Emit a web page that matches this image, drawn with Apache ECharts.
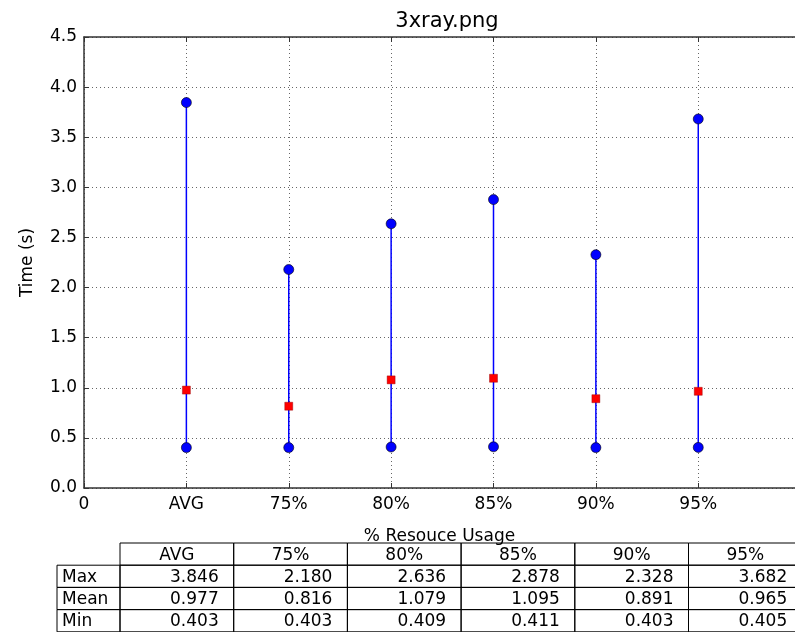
<!DOCTYPE html>
<html>
<head>
<meta charset="utf-8">
<script src="https://cdn.jsdelivr.net/npm/echarts@6/dist/echarts.min.js"></script>
<style>
html,body{margin:0;padding:0;background:#fff;}
#chart{width:795px;height:632px;}
</style>
</head>
<body>
<div id="chart"></div>
<script>
// ---- data ----
const categories = ['AVG', '75%', '80%', '85%', '90%', '95%'];
const maxVals  = [3.846, 2.180, 2.636, 2.878, 2.328, 3.682];
const meanVals = [0.977, 0.816, 1.079, 1.095, 0.891, 0.965];
const minVals  = [0.403, 0.403, 0.409, 0.411, 0.403, 0.405];
const xTickLabels = ['0', 'AVG', '75%', '80%', '85%', '90%', '95%'];
const rowLabels = ['Max', 'Mean', 'Min'];
const titleText = '3xray.png';
const xAxisName = '% Resouce Usage';
const yAxisName = 'Time (s)';

// ---- layout ----
const FONT = 'DejaVu Sans';
const gridLeft = 84, gridTop = 37, gridW = 712.5, gridH = 451;
const xMaxVisible = 6.945; // axis runs to 7, right part is cut off by the canvas
const axisColor = '#333';

const chart = echarts.init(document.getElementById('chart'));

const lineSeries = categories.map((c, i) => ({
  type: 'line',
  data: [[i + 1, minVals[i]], [i + 1, maxVals[i]]],
  symbol: 'none',
  lineStyle: { color: '#0000ff', width: 1.5 },
  z: 2,
  animation: false
}));

// table graphics
const tableTop = 543, rowH = 22.2, labelLeft = 57, colStart = 120, colW = 113.7;
const graphics = [];
const rect = (x, y, w, h) => ({
  type: 'rect', shape: { x: x, y: y, width: w, height: h },
  style: { fill: 'none', stroke: '#000', lineWidth: 1 }, silent: true
});
const txt = (s, x, y, align) => ({
  type: 'text', x: x, y: y,
  style: { text: s, font: '17px "' + FONT + '"', fill: '#000', textAlign: align, textVerticalAlign: 'middle' },
  silent: true
});
categories.forEach((c, j) => {
  const x = colStart + j * colW;
  graphics.push(rect(x, tableTop, colW, rowH));
  graphics.push(txt(c, x + colW / 2, tableTop + rowH / 2 + 1, 'center'));
});
const tableRows = [maxVals, meanVals, minVals];
tableRows.forEach((vals, r) => {
  const y = tableTop + rowH * (r + 1);
  graphics.push(rect(labelLeft, y, colStart - labelLeft, rowH));
  graphics.push(txt(rowLabels[r], labelLeft + 5, y + rowH / 2 + 1, 'left'));
  vals.forEach((v, j) => {
    const x = colStart + j * colW;
    graphics.push(rect(x, y, colW, rowH));
    graphics.push(txt(v.toFixed(3), x + colW - 15, y + rowH / 2 + 1, 'right'));
  });
});

const xLabelFmt = v => (Number.isInteger(v) && xTickLabels[v] !== undefined) ? xTickLabels[v] : '';

const option = {
  animation: false,
  backgroundColor: '#fff',
  title: {
    text: titleText,
    left: 442,
    textAlign: 'center',
    top: 6,
    textStyle: { fontFamily: FONT, fontSize: 21, fontWeight: 'normal', color: '#000' }
  },
  grid: { left: gridLeft, top: gridTop, width: gridW, height: gridH, containLabel: false },
  xAxis: [{
    type: 'value', min: 0, max: xMaxVisible, interval: 1, position: 'bottom',
    name: xAxisName, nameLocation: 'middle', nameGap: 40,
    nameTextStyle: { fontFamily: FONT, fontSize: 17, color: '#000' },
    axisLine: { show: true, onZero: false, lineStyle: { color: axisColor, width: 1.5 } },
    axisTick: { show: true, inside: true, length: 5, lineStyle: { color: axisColor } },
    axisLabel: { formatter: xLabelFmt, fontFamily: FONT, fontSize: 17, color: '#000', margin: 8, showMaxLabel: false },
    splitLine: { show: true, showMaxLine: false, lineStyle: { color: '#666', type: [1, 3], width: 1 } }
  }, {
    type: 'value', min: 0, max: xMaxVisible, interval: 1, position: 'top',
    axisLine: { show: true, onZero: false, lineStyle: { color: axisColor, width: 1.5 } },
    axisTick: { show: true, inside: true, length: 5, lineStyle: { color: axisColor } },
    axisLabel: { show: false },
    splitLine: { show: false }
  }],
  yAxis: {
    type: 'value', min: 0, max: 4.5, interval: 0.5,
    name: yAxisName, nameLocation: 'middle', nameGap: 48, nameRotate: 90,
    nameTextStyle: { fontFamily: FONT, fontSize: 17, color: '#000' },
    axisLine: { show: true, onZero: false, lineStyle: { color: axisColor, width: 1.5 } },
    axisTick: { show: true, inside: true, length: 5, lineStyle: { color: axisColor } },
    axisLabel: { formatter: v => v.toFixed(1), fontFamily: FONT, fontSize: 17, color: '#000', margin: 7 },
    splitLine: { show: true, lineStyle: { color: '#666', type: [1, 3], width: 1 } }
  },
  series: lineSeries.concat([
    {
      type: 'scatter', name: 'max',
      data: maxVals.map((v, i) => [i + 1, v]),
      symbol: 'circle', symbolSize: 10,
      itemStyle: { color: '#0000ff', borderColor: '#000', borderWidth: 0.6, opacity: 1 },
      z: 3
    },
    {
      type: 'scatter', name: 'min',
      data: minVals.map((v, i) => [i + 1, v]),
      symbol: 'circle', symbolSize: 10,
      itemStyle: { color: '#0000ff', borderColor: '#000', borderWidth: 0.6, opacity: 1 },
      z: 3
    },
    {
      type: 'scatter', name: 'mean',
      data: meanVals.map((v, i) => [i + 1, v]),
      symbol: 'rect', symbolSize: 8,
      itemStyle: { color: '#ff0000', borderColor: '#800', borderWidth: 0.4, opacity: 1 },
      z: 4
    }
  ]),
  graphic: graphics
};
chart.setOption(option);
</script>
</body>
</html>
